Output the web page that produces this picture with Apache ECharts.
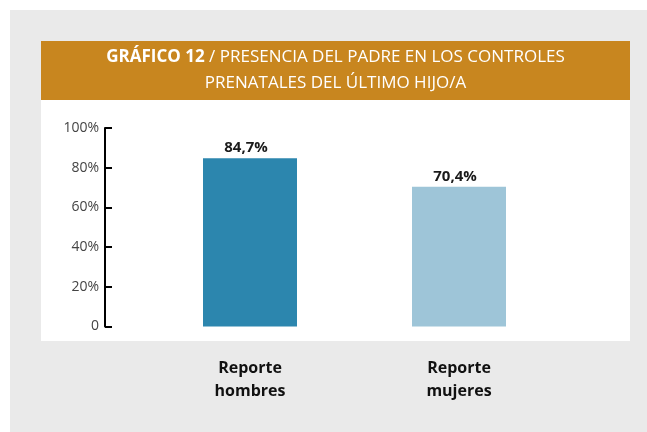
<!DOCTYPE html>
<html>
<head>
<meta charset="utf-8">
<script src="https://cdn.jsdelivr.net/npm/echarts@6/dist/echarts.min.js"></script>
<style>
html,body{margin:0;padding:0;background:#fff;}
#chart{width:647px;height:432px;}
</style>
</head>
<body>
<div id="chart"></div>
<script>
var categories = ['Reporte\nhombres', 'Reporte\nmujeres'];
var values = [84.7, 70.4];
var barColors = ['#2C86AE', '#9EC5D8'];
var yTicks = [0, 20, 40, 60, 80, 100];
var titleBold = 'GRÁFICO 12';
var titleRest = ' / PRESENCIA DEL PADRE EN LOS CONTROLES';
var titleLine2 = 'PRENATALES DEL ÚLTIMO HIJO/A';

var chart = echarts.init(document.getElementById('chart'), null, {renderer: 'canvas'});
var font = '"Open Sans", "Noto Sans", sans-serif';

chart.setOption({
  animation: false,
  backgroundColor: '#ffffff',
  graphic: [
    {type: 'rect', z: -10, shape: {x: 10, y: 10, width: 637, height: 422}, style: {fill: '#EAEAEA'}},
    {type: 'rect', z: -9, shape: {x: 41, y: 41, width: 589, height: 59}, style: {fill: '#C8861F'}},
    {type: 'rect', z: -9, shape: {x: 41, y: 100, width: 589, height: 241}, style: {fill: '#FFFFFF'}},
    {
      type: 'text', z: 10,
      style: {
        x: 335.5, y: 57.5, align: 'center', verticalAlign: 'middle',
        text: '{b|' + titleBold + '}{r|' + titleRest + '}',
        rich: {
          b: {fontFamily: font, fontSize: 17, fontWeight: 'bold', fill: '#fff'},
          r: {fontFamily: font, fontSize: 17, fill: '#fff'}
        }
      }
    },
    {
      type: 'text', z: 10,
      style: {
        x: 335.5, y: 83.5, align: 'center', verticalAlign: 'middle',
        text: titleLine2, fontFamily: font, fontSize: 17, fill: '#fff'
      }
    }
  ],
  grid: {left: 145.5, right: 83.5, top: 128, bottom: 105.5, containLabel: false},
  xAxis: {
    type: 'category',
    data: categories,
    axisLine: {show: false},
    axisTick: {show: false},
    axisLabel: {
      margin: 30, color: '#111', fontFamily: font, fontWeight: 'bold', fontSize: 16, lineHeight: 23
    }
  },
  yAxis: {
    type: 'value',
    min: 0, max: 100, interval: 20,
    offset: 40.5,
    axisLine: {show: true, lineStyle: {color: '#000', width: 2}},
    axisTick: {show: true, inside: true, length: 7, lineStyle: {color: '#000', width: 2}},
    splitLine: {show: false},
    axisLabel: {
      margin: 6, color: '#444', fontFamily: font, fontSize: 14,
      formatter: function (v) { return yTicks.indexOf(v) >= 0 ? (v === 0 ? '0' : v + '%') : ''; }
    }
  },
  series: [{
    type: 'bar',
    barWidth: 94,
    data: values.map(function (v, i) { return {value: v, itemStyle: {color: barColors[i]}}; }),
    label: {
      show: true, position: 'top', distance: 3, offset: [-4, 0],
      color: '#1a1a1a', fontFamily: font, fontWeight: 'bold', fontSize: 15,
      formatter: function (p) { return p.value.toFixed(1).replace('.', ',') + '%'; }
    }
  }]
});
</script>
</body>
</html>
